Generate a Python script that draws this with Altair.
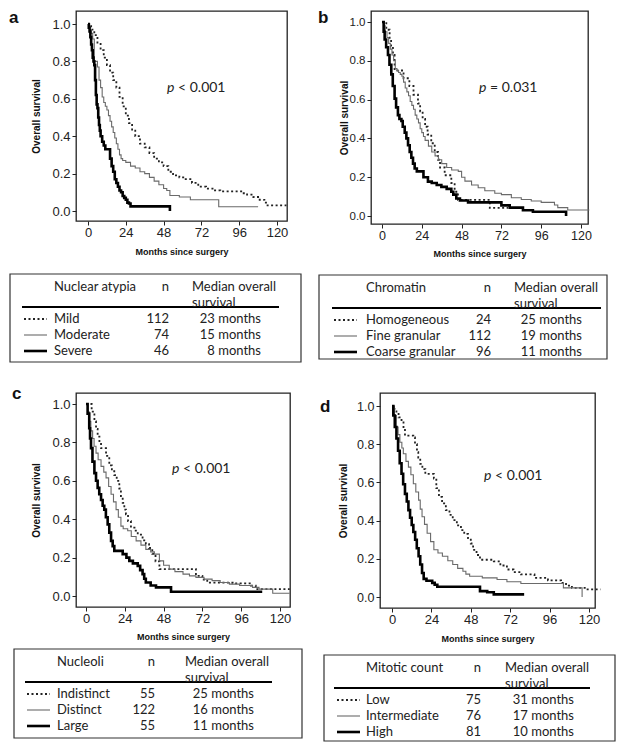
import altair as alt
import pandas as pd

# ---------------- data ----------------
months_ticks = [0, 24, 48, 72, 96, 120]
surv_ticks = [0.0, 0.2, 0.4, 0.6, 0.8, 1.0]

# Panel a - Nuclear atypia
a_factor = "Nuclear atypia"
a_groups = ["Mild", "Moderate", "Severe"]
a_n = [112, 74, 46]
a_median = [23, 15, 8]
a_p = ["p", "< 0.001"]
a_mild_t = [0, 2, 4, 6, 8, 10, 12, 14, 16, 18, 20, 22, 24, 26, 28, 30, 33, 36, 39, 42, 45, 48, 51, 54, 58, 62, 66, 70, 75, 80, 84, 98, 101, 105, 109, 112, 114, 126]
a_mild_s = [1.0, 0.97, 0.94, 0.90, 0.86, 0.82, 0.78, 0.74, 0.70, 0.66, 0.61, 0.56, 0.51, 0.47, 0.43, 0.40, 0.36, 0.34, 0.31, 0.28, 0.26, 0.24, 0.21, 0.19, 0.18, 0.17, 0.15, 0.13, 0.12, 0.11, 0.105, 0.095, 0.088, 0.075, 0.06, 0.045, 0.03, 0.03]
a_mod_t = [0, 1, 2, 3, 4, 6, 7, 8, 9, 10, 11, 12, 13, 14, 15, 16, 17, 18, 19, 20, 21, 22, 24, 27, 30, 33, 36, 39, 42, 45, 48, 50, 52, 58, 65, 83, 108]
a_mod_s = [1.0, 0.97, 0.95, 0.92, 0.80, 0.77, 0.70, 0.66, 0.61, 0.58, 0.56, 0.54, 0.51, 0.48, 0.45, 0.42, 0.39, 0.36, 0.33, 0.30, 0.28, 0.27, 0.26, 0.24, 0.23, 0.21, 0.20, 0.18, 0.16, 0.14, 0.12, 0.11, 0.083, 0.075, 0.06, 0.023, 0.023]
a_sev_t = [0, 0.5, 1, 1.5, 2, 2.5, 3, 3.5, 4, 4.5, 5, 5.5, 6, 6.5, 7, 7.5, 8, 9, 10, 11, 14, 15, 16, 17, 18, 19, 20, 21, 22, 23, 24, 25, 26, 27, 52, 52]
a_sev_s = [1.0, 0.98, 0.96, 0.93, 0.89, 0.86, 0.82, 0.80, 0.78, 0.70, 0.62, 0.57, 0.55, 0.50, 0.46, 0.43, 0.40, 0.37, 0.35, 0.33, 0.28, 0.24, 0.21, 0.17, 0.15, 0.13, 0.11, 0.10, 0.08, 0.07, 0.06, 0.045, 0.04, 0.025, 0.025, 0.0]

# Panel b - Chromatin
b_factor = "Chromatin"
b_groups = ["Homogeneous", "Fine granular", "Coarse granular"]
b_n = [24, 112, 96]
b_median = [25, 19, 11]
b_p = ["p", "= 0.031"]
b_hom_t = [0, 2.6, 4.6, 5.5, 6.6, 7.6, 13, 16.5, 19, 21.7, 23, 24.5, 26, 27.5, 29.7, 31.8, 33.8, 35, 37.8, 41.8, 43.8, 45.8, 65, 76]
b_hom_s = [1.0, 0.96, 0.91, 0.875, 0.83, 0.75, 0.71, 0.67, 0.625, 0.58, 0.54, 0.50, 0.46, 0.42, 0.375, 0.33, 0.29, 0.25, 0.21, 0.17, 0.125, 0.083, 0.042, 0.042]
b_fine_t = [0, 1, 2, 3, 4, 5, 6, 7, 8, 9, 10, 11, 12, 13, 14, 15, 16, 17, 18, 19, 20, 21, 22, 23, 24, 25, 26, 28, 30, 32, 34, 36, 39, 42, 46, 48, 50, 54, 58, 62, 68, 72, 78, 84, 90, 96, 104, 106, 112, 125]
b_fine_s = [1.0, 0.98, 0.95, 0.92, 0.89, 0.86, 0.83, 0.80, 0.76, 0.75, 0.74, 0.73, 0.72, 0.69, 0.66, 0.64, 0.62, 0.59, 0.57, 0.55, 0.52, 0.50, 0.48, 0.45, 0.43, 0.41, 0.39, 0.36, 0.33, 0.31, 0.29, 0.27, 0.25, 0.237, 0.23, 0.20, 0.18, 0.16, 0.146, 0.13, 0.117, 0.11, 0.094, 0.085, 0.077, 0.07, 0.057, 0.043, 0.031, 0.031]
b_coarse_t = [0, 1, 1.6, 2.5, 3.6, 4.5, 5.6, 6.5, 7.6, 8.5, 9.6, 10.5, 11.7, 12.5, 13.7, 14.7, 15.7, 16.7, 17.7, 18.7, 19.7, 21, 25, 27.7, 30, 33, 35.8, 39, 41.8, 43, 44.8, 47, 51.9, 72, 77, 85, 91, 111, 111]
b_coarse_s = [1.0, 0.95, 0.91, 0.87, 0.83, 0.78, 0.73, 0.67, 0.605, 0.56, 0.52, 0.50, 0.49, 0.46, 0.43, 0.40, 0.365, 0.33, 0.30, 0.27, 0.245, 0.23, 0.20, 0.177, 0.17, 0.16, 0.15, 0.14, 0.125, 0.11, 0.09, 0.08, 0.07, 0.055, 0.043, 0.03, 0.022, 0.022, 0.0]

# Panel c - Nucleoli
c_factor = "Nucleoli"
c_groups = ["Indistinct", "Distinct", "Large"]
c_n = [55, 122, 55]
c_median = [25, 16, 11]
c_p = ["p", "< 0.001"]
c_ind_t = [0, 2, 3.5, 5.2, 6.2, 7.2, 8.3, 9.3, 12.4, 14.4, 16, 17.5, 19, 20.6, 21.6, 22.7, 23.7, 24.7, 26, 27.8, 30, 32, 35, 37, 39, 41, 43, 45.4, 68, 72, 75, 90.7, 102, 105, 126]
c_ind_s = [1.0, 1.0, 0.96, 0.91, 0.87, 0.83, 0.80, 0.77, 0.73, 0.68, 0.65, 0.63, 0.60, 0.56, 0.52, 0.485, 0.45, 0.425, 0.39, 0.356, 0.34, 0.32, 0.29, 0.27, 0.25, 0.22, 0.18, 0.14, 0.105, 0.085, 0.07, 0.066, 0.054, 0.036, 0.036]
c_dis_t = [0, 1, 2, 3, 4.1, 5, 6.2, 7.5, 9.3, 11, 12.4, 14, 15.5, 17, 18.6, 20, 21.6, 23, 25.8, 28, 31, 34, 37, 40, 42.3, 45.4, 48, 51.5, 55, 60, 64, 68, 73, 78, 83, 88.7, 95, 103, 107, 115.5, 126]
c_dis_s = [1.0, 0.96, 0.91, 0.86, 0.82, 0.78, 0.744, 0.71, 0.675, 0.645, 0.615, 0.57, 0.53, 0.49, 0.45, 0.41, 0.364, 0.35, 0.34, 0.31, 0.287, 0.265, 0.243, 0.23, 0.218, 0.183, 0.16, 0.14, 0.127, 0.114, 0.105, 0.097, 0.088, 0.08, 0.07, 0.062, 0.055, 0.045, 0.036, 0.014, 0.014]
c_lar_t = [0, 1, 2, 2.5, 3.1, 4, 5.2, 6.2, 7.2, 8.2, 9.3, 10.3, 11.3, 12.3, 13.4, 14.4, 15.5, 16.5, 17.5, 22.7, 25, 26.8, 29, 32, 33.5, 35, 36, 37, 40, 43.3, 52.6, 109]
c_lar_s = [1.0, 0.95, 0.874, 0.82, 0.77, 0.70, 0.64, 0.60, 0.563, 0.53, 0.50, 0.47, 0.45, 0.41, 0.373, 0.33, 0.287, 0.26, 0.235, 0.218, 0.20, 0.183, 0.17, 0.157, 0.135, 0.114, 0.09, 0.07, 0.055, 0.045, 0.022, 0.022]

# Panel d - Mitotic count
d_factor = "Mitotic count"
d_groups = ["Low", "Intermediate", "High"]
d_n = [75, 76, 81]
d_median = [31, 17, 10]
d_p = ["p", "< 0.001"]
d_low_t = [0, 1.5, 2.7, 4, 5.8, 7, 7.9, 13, 14, 15.2, 16, 17.2, 18.5, 20.3, 25.5, 27, 28.6, 30.5, 32.8, 35, 37, 39.5, 42, 44, 46.3, 48, 49.4, 51.5, 53.6, 62, 66, 70, 74, 78.5, 86.8, 95, 103, 106, 109.6, 118, 127]
d_low_s = [1.0, 0.98, 0.965, 0.94, 0.92, 0.88, 0.845, 0.835, 0.80, 0.758, 0.73, 0.697, 0.67, 0.645, 0.62, 0.57, 0.524, 0.49, 0.455, 0.43, 0.403, 0.375, 0.35, 0.33, 0.308, 0.28, 0.247, 0.22, 0.195, 0.187, 0.165, 0.144, 0.13, 0.118, 0.10, 0.087, 0.074, 0.06, 0.048, 0.04, 0.04]
d_int_t = [0, 1.5, 2.7, 3.7, 4.8, 6, 6.9, 8.5, 10, 11.5, 13, 14.5, 16.2, 17.2, 18.3, 19.8, 21.4, 23.5, 25.5, 28, 30.7, 34, 37, 40, 43.2, 45, 47.3, 55, 64, 70, 78.5, 104.4, 115.8, 115.8]
d_int_s = [1.0, 0.95, 0.89, 0.85, 0.81, 0.78, 0.75, 0.71, 0.68, 0.64, 0.593, 0.55, 0.507, 0.46, 0.42, 0.38, 0.334, 0.29, 0.247, 0.23, 0.213, 0.19, 0.17, 0.15, 0.135, 0.12, 0.109, 0.10, 0.092, 0.08, 0.071, 0.048, 0.026, 0.0]
d_high_t = [0, 0.8, 1.7, 2.7, 3.7, 4.7, 5.8, 6.8, 7.9, 9, 10, 11, 12, 13, 14.1, 15.1, 16.2, 17.2, 18.3, 19.3, 21, 24.5, 26, 27.6, 53.6, 58, 62, 80.5]
d_high_s = [1.0, 0.95, 0.89, 0.83, 0.766, 0.70, 0.645, 0.59, 0.54, 0.50, 0.455, 0.415, 0.377, 0.34, 0.30, 0.255, 0.213, 0.17, 0.126, 0.095, 0.085, 0.074, 0.064, 0.054, 0.031, 0.025, 0.014, 0.014]

# ---------------- styling ----------------
STY = [
    dict(color="#222222", strokeWidth=1.8, strokeDash=[2, 2.5]),
    dict(color="#6a6a6a", strokeWidth=1.1),
    dict(color="#000000", strokeWidth=2.6),
]
AXF = "Liberation Sans"
TF = "Lato"
TXT = "#222222"

# per-panel layout (pixels relative to plot origin)
CFG = {
    "a": dict(w=211, h=210, x0=12, x120=201, y1=13, y0=200, lab=(-67, -1), p=(91, 77),
              ylab=13, xlab=13, ytp=10, xtp=8,
              tgap=53, tl=-66, tw=291, th=88,
              title_x=44, n_x=159, med_l=182, med_r=251, rule=(12, 269), samp=(14, 37), lab_x=44),
    "b": dict(w=217, h=213, x0=11, x120=210, y1=11, y0=205, lab=(-53, -1), p=(108, 77),
              ylab=11.5, xlab=12.5, ytp=0, xtp=8,
              tgap=51, tl=-52, tw=288, th=84,
              title_x=47, n_x=172, med_l=195, med_r=263, rule=(13, 282), samp=(15, 38), lab_x=47),
    "c": dict(w=214, h=214, x0=10, x120=204, y1=11, y0=203, lab=(-64, -7), p=(96, 76),
              ylab=13, xlab=13, ytp=10, xtp=7,
              tgap=42, tl=-62, tw=288, th=89,
              title_x=43, n_x=141, med_l=171, med_r=240, rule=(11, 258), samp=(13, 36), lab_x=43),
    "d": dict(w=215, h=215, x0=12, x120=209, y1=13, y0=204, lab=(-60, 6), p=(104, 83),
              ylab=12.5, xlab=13, ytp=8, xtp=8,
              tgap=47, tl=-56, tw=291, th=86,
              title_x=42, n_x=157, med_l=181, med_r=250, rule=(10, 266), samp=(13, 36), lab_x=42),
}
HDR_Y = [13, 29]
RULE_Y = 33
ROW_Y = [45, 61, 77]


def one(text):
    return pd.DataFrame({"v": [text]})


def txt(text, x, y, **kw):
    base = dict(font=TF, fontSize=13, color=TXT, baseline="middle", align="left")
    base.update(kw)
    return alt.Chart(one(text)).mark_text(**base).encode(
        text="v:N", x=alt.value(x), y=alt.value(y))


def panel(letter, curves, factor, groups, ns, meds, ptxt):
    c = CFG[letter]
    k = (c["x120"] - c["x0"]) / 120.0
    xdom = [-c["x0"] / k, (c["w"] - c["x0"]) / k]
    u = c["y0"] - c["y1"]
    ydom = [-(c["h"] - c["y0"]) / u, 1 + c["y1"] / u]
    X = alt.X("t:Q", scale=alt.Scale(domain=xdom, nice=False, zero=False),
              axis=alt.Axis(values=months_ticks, title="Months since surgery",
                            titleFontSize=9, titlePadding=c["xtp"], labelPadding=1,
                            labelFontSize=c["xlab"], labelFlush=False, labelOverlap=False))
    Y = alt.Y("s:Q", scale=alt.Scale(domain=ydom, nice=False, zero=False),
              axis=alt.Axis(values=surv_ticks, format=".1f", title="Overall survival",
                            titleFontSize=10, titlePadding=c["ytp"], labelPadding=2,
                            labelFontSize=c["ylab"], labelFlush=False, labelOverlap=False))
    layers = []
    for i, (tt, ss) in enumerate(curves):
        df = pd.DataFrame({"t": tt, "s": ss})
        layers.append(alt.Chart(df).mark_line(interpolate="step-after", **STY[i]).encode(x=X, y=Y))

    # panel letter and p value
    layers.append(txt(letter, c["lab"][0], c["lab"][1], font=AXF, fontSize=17,
                      fontWeight="bold", baseline="top", color="#111111"))
    layers.append(txt(ptxt[0], c["p"][0], c["p"][1], fontSize=14, fontStyle="italic"))
    layers.append(txt(ptxt[1], c["p"][0] + 11, c["p"][1], fontSize=14))

    # table below the plot
    bx = c["tl"]
    by = c["h"] + c["tgap"]
    box = alt.Chart(one("box")).mark_rect(fillOpacity=0, stroke="#333333", strokeWidth=1.2).encode(
        x=alt.value(bx), x2=alt.value(bx + c["tw"]), y=alt.value(by), y2=alt.value(by + c["th"]))
    layers.append(box)
    layers.append(alt.Chart(one("rule")).mark_rule(color="#000000", strokeWidth=2).encode(
        x=alt.value(bx + c["rule"][0]), x2=alt.value(bx + c["rule"][1]), y=alt.value(by + RULE_Y)))
    layers.append(txt(factor, bx + c["title_x"], by + HDR_Y[0]))
    layers.append(txt("n", bx + c["n_x"], by + HDR_Y[0], align="right"))
    layers.append(txt("Median overall", bx + c["med_l"], by + HDR_Y[0]))
    layers.append(txt("survival", bx + c["med_l"], by + HDR_Y[1]))

    rows = pd.DataFrame({"i": [0, 1, 2], "g": groups,
                         "n": [str(v) for v in ns],
                         "m": [f"{v} months" for v in meds]})
    for i in range(3):
        yy = by + ROW_Y[i]
        base = alt.Chart(rows).transform_filter(f"datum.i == {i}")
        layers.append(base.mark_rule(**STY[i]).encode(
            x=alt.value(bx + c["samp"][0]), x2=alt.value(bx + c["samp"][1]), y=alt.value(yy)))
        tk = dict(font=TF, fontSize=13, color=TXT, baseline="middle")
        layers.append(base.mark_text(align="left", **tk).encode(
            text="g:N", x=alt.value(bx + c["lab_x"]), y=alt.value(yy)))
        layers.append(base.mark_text(align="right", **tk).encode(
            text="n:N", x=alt.value(bx + c["n_x"]), y=alt.value(yy)))
        layers.append(base.mark_text(align="right", **tk).encode(
            text="m:N", x=alt.value(bx + c["med_r"]), y=alt.value(yy)))

    return alt.layer(*layers).properties(width=c["w"], height=c["h"])


pa = panel("a", [(a_mild_t, a_mild_s), (a_mod_t, a_mod_s), (a_sev_t, a_sev_s)],
           a_factor, a_groups, a_n, a_median, a_p)
pb = panel("b", [(b_hom_t, b_hom_s), (b_fine_t, b_fine_s), (b_coarse_t, b_coarse_s)],
           b_factor, b_groups, b_n, b_median, b_p)
pc = panel("c", [(c_ind_t, c_ind_s), (c_dis_t, c_dis_s), (c_lar_t, c_lar_s)],
           c_factor, c_groups, c_n, c_median, c_p)
pd_ = panel("d", [(d_low_t, d_low_s), (d_int_t, d_int_s), (d_high_t, d_high_s)],
            d_factor, d_groups, d_n, d_median, d_p)

row1 = alt.hconcat(pa, pb, spacing=14).resolve_scale(x="independent", y="independent")
row2 = alt.hconcat(pc, pd_, spacing=15).resolve_scale(x="independent", y="independent")

chart = (
    alt.vconcat(row1, row2, spacing=20)
    .resolve_scale(x="independent", y="independent")
    .properties(padding=0, background="white")
    .configure_view(stroke="#222222", strokeWidth=1.3)
    .configure_axis(grid=False, domain=False, tickColor="#222222", tickSize=4, tickWidth=1,
                    labelFont=AXF, labelColor="#222222", titleFont=AXF,
                    titleFontWeight="bold", titleColor="#111111")
)

chart.save("out.html", embed_options={"renderer": "svg", "actions": False})
